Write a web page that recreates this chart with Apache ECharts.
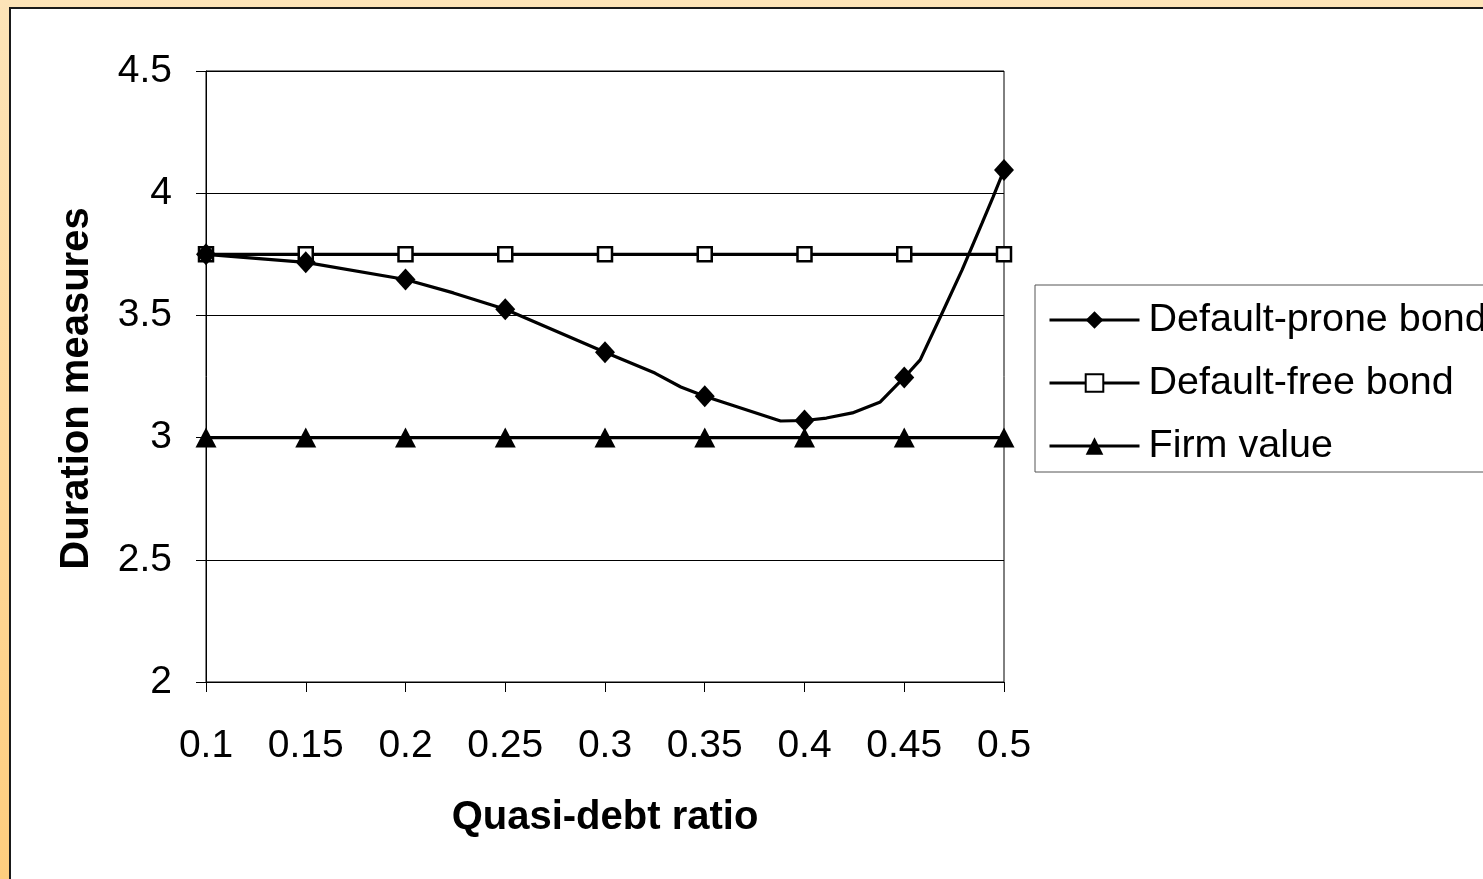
<!DOCTYPE html>
<html>
<head>
<meta charset="utf-8">
<title>Duration measures vs quasi-debt ratio</title>
<script src="https://cdn.jsdelivr.net/npm/echarts@6/dist/echarts.min.js"></script>
<style>
  html, body { margin: 0; padding: 0; width: 1483px; height: 879px; overflow: hidden; }
  body { background: linear-gradient(to bottom, #fde4b8 0%, #fed89a 55%, #fecd7e 100%); position: relative; }
  #sheet { position: absolute; left: 9px; top: 7px; right: 0; bottom: 0; background: #fff;
           border-left: 2px solid #1a1a1a; border-top: 2px solid #1a1a1a; box-sizing: border-box; }
  #chart { position: absolute; left: 0; top: 0; width: 1483px; height: 879px; }
</style>
</head>
<body>
<div id="sheet"></div>
<div id="chart"></div>
<script>
// Quasi-debt ratios where the markers sit
const ratios = [0.1, 0.15, 0.2, 0.25, 0.3, 0.35, 0.4, 0.45, 0.5];
// Default-prone bond duration at the marked ratios
const proneAtRatios = [3.75, 3.717, 3.647, 3.525, 3.349, 3.169, 3.07, 3.246, 4.095];
// Extra computed points of the default-prone curve between markers
const proneCurveX = [0.224, 0.325, 0.338, 0.388, 0.411, 0.424, 0.438, 0.458, 0.469, 0.479, 0.489, 0.4945];
const proneCurveY = [3.592, 3.264, 3.207, 3.068, 3.080, 3.101, 3.146, 3.318, 3.510, 3.686, 3.878, 3.984];
// Default-free bond and firm value durations
const defaultFree = [3.75, 3.75, 3.75, 3.75, 3.75, 3.75, 3.75, 3.75, 3.75];
const firmValue = [3, 3, 3, 3, 3, 3, 3, 3, 3];
// Value-axis ticks
const yTicks = [2, 2.5, 3, 3.5, 4, 4.5];

const FONT = '"Liberation Sans", Arial, sans-serif';

const proneData = ratios.map((x, i) => ({ value: [x, proneAtRatios[i]] }))
  .concat(proneCurveX.map((x, i) => ({ value: [x, proneCurveY[i]], symbol: 'none' })))
  .sort((a, b) => a.value[0] - b.value[0]);

const chart = echarts.init(document.getElementById('chart'), null, { renderer: 'canvas' });
chart.setOption({
  backgroundColor: 'transparent',
  animation: false,
  textStyle: { fontFamily: FONT, color: '#000' },
  grid: { left: 206, right: 479, top: 71, bottom: 197, show: true, borderColor: '#000', borderWidth: 1, backgroundColor: 'transparent' },
  xAxis: {
    type: 'value', min: 0.1, max: 0.5, interval: 0.05,
    name: 'Quasi-debt ratio', nameLocation: 'middle', nameGap: 116,
    nameTextStyle: { fontFamily: FONT, fontSize: 40, fontWeight: 'bold', color: '#000' },
    axisLine: { show: true, lineStyle: { color: '#000', width: 1 } },
    axisTick: { show: true, length: 10, inside: false, lineStyle: { color: '#000', width: 1 } },
    axisLabel: { margin: 45, fontSize: 39, fontFamily: FONT, color: '#000',
                 formatter: v => String(+v.toFixed(2)) },
    splitLine: { show: false }
  },
  yAxis: {
    type: 'value', min: yTicks[0], max: yTicks[yTicks.length - 1], interval: 0.5,
    name: 'Duration measures', nameLocation: 'middle', nameGap: 109,
    nameTextStyle: { fontFamily: FONT, fontSize: 40, fontWeight: 'bold', color: '#000', padding: [0, 24, 0, 0] },
    axisLine: { show: true, lineStyle: { color: '#000', width: 1 } },
    axisTick: { show: true, length: 10, lineStyle: { color: '#000', width: 1 } },
    axisLabel: { margin: 34, fontSize: 39, fontFamily: FONT, color: '#000',
                 verticalAlign: 'middle', padding: [20, 0, 0, 0] },
    splitLine: { show: true, lineStyle: { color: '#000', width: 1 } }
  },
  legend: {
    orient: 'vertical', left: 1035, top: 285,
    padding: [15, 0, 6, 13], itemGap: 23, itemWidth: 90, itemHeight: 22,
    backgroundColor: '#fff', borderColor: '#555', borderWidth: 1, borderRadius: 0,
    lineStyle: { width: 3, color: '#000' },
    textStyle: { fontFamily: FONT, fontSize: 39.5, color: '#000', lineHeight: 39, padding: [0, 0, 0, 4] },
    data: ['Default-prone bond', 'Default-free bond', 'Firm value']
  },
  series: [
    {
      name: 'Default-prone bond', type: 'line', data: proneData,
      symbol: 'diamond', symbolSize: [20, 22], showAllSymbol: true,
      lineStyle: { color: '#000', width: 3.2 }, itemStyle: { color: '#000' }, z: 3
    },
    {
      name: 'Default-free bond', type: 'line',
      data: ratios.map((x, i) => [x, defaultFree[i]]),
      symbol: 'rect', symbolSize: 14, showAllSymbol: true,
      lineStyle: { color: '#000', width: 3.2 },
      itemStyle: { color: '#fff', borderColor: '#000', borderWidth: 2.5 }, z: 2
    },
    {
      name: 'Firm value', type: 'line',
      data: ratios.map((x, i) => [x, firmValue[i]]),
      symbol: 'triangle', symbolSize: [21, 20], showAllSymbol: true,
      lineStyle: { color: '#000', width: 3.2 }, itemStyle: { color: '#000' }, z: 2
    }
  ]
});
</script>
</body>
</html>
